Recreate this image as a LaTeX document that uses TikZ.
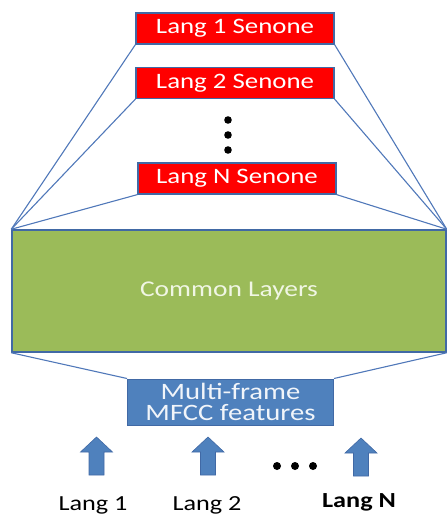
\documentclass[tikz,border=0pt]{standalone}
\usepackage{fontspec}
\setmainfont{Carlito}[FakeStretch=1.22]
\usetikzlibrary{%
    arrows.meta,%
    positioning
    }
\definecolor{senred}{RGB}{255,0,0}
\definecolor{boxline}{RGB}{65,105,165}
\definecolor{linkblue}{RGB}{80,120,185}
\definecolor{olive}{RGB}{155,187,89}
\definecolor{mfccblue}{RGB}{79,129,189}
\definecolor{paletxt}{RGB}{240,246,228}
\tikzset{
  senone/.style={
    rectangle,
    minimum width=198pt,
    minimum height=31pt,
    inner sep=0pt,
    draw=boxline,
    line width=1.2pt,
    fill=senred,
    font=\fontsize{22}{24}\selectfont\color{white},
  },
  common/.style={
    rectangle,
    minimum width=434pt,
    minimum height=122pt,
    draw=boxline,
    line width=1.5pt,
    fill=olive,
    font=\fontsize{22.5}{24}\selectfont\color{paletxt},
  },
  mfcc/.style={
    rectangle,
    minimum width=206pt,
    minimum height=46pt,
    inner sep=0pt,
    align=center,
    draw=boxline,
    line width=1pt,
    fill=mfccblue,
    font=\fontsize{23.5}{21.5}\selectfont\color{white!92!mfccblue},
  },
  uparrow/.style={
    draw=boxline,
    line width=0.6pt,
    fill=mfccblue,
  },
  langlabel/.style={
    font=\fontsize{21.5}{23}\selectfont,
    inner sep=0pt,
    anchor=base,
  },
  link/.style={
    linkblue,
    line width=1.1pt,
  },
}
\begin{document}
\begin{tikzpicture}[x=1pt,y=-1pt]
\useasboundingbox (0,0) rectangle (447,514);

% output layers
\node[senone] (s1) at (235,28.5) {Lang 1 Senone};
\node[senone] (s2) at (235,83) {Lang 2 Senone};
\node[senone] (sN) at (237,178.5) {Lang N Senone};
\foreach \y in {120,135,150}
  \fill (228,\y) circle (3.8);

% shared part
\node[common] (com) at (229,291) {Common Layers};
\node[mfcc] (mfcc) at (230.5,402) {Multi-frame\\MFCC features};

\begin{scope}[link]
\foreach \s in {s1,s2,sN}{
  \draw (\s.south west) -- (com.north west);
  \draw (\s.south east) -- (com.north east);
}
\draw (mfcc.north west) -- (com.south west);
\draw (mfcc.north east) -- (com.south east);
\end{scope}

% inputs
\coordinate (a1) at (96.5,437);
\coordinate (a2) at (208,437);
\coordinate (aN) at (361,438);
\foreach \a in {a1,a2,aN}
  \draw[uparrow] (\a) -- ++(16,15) -- ++(-8.5,0) -- ++(0,23) -- ++(-15,0)
    -- ++(0,-23) -- ++(-8.5,0) -- cycle;
\foreach \x in {277,295,313}
  \fill (\x,466) circle (4);

\node[langlabel] (l1) at (93,510) {Lang 1};
\node[langlabel] (l2) at (207,510) {Lang 2};
\node[langlabel,font=\fontsize{21.5}{23}\selectfont\bfseries] (lN) at (359,507) {Lang N};
\end{tikzpicture}
\end{document}
